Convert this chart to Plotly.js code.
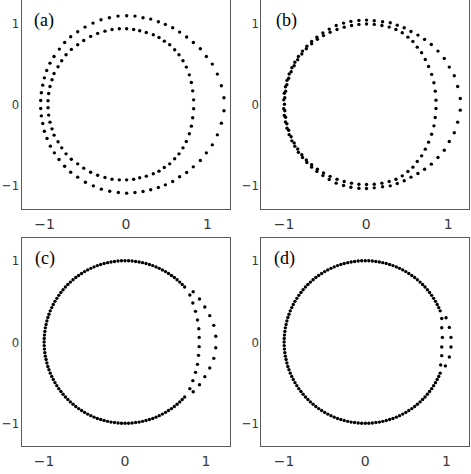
<!DOCTYPE html>
<html>
<head>
<meta charset="utf-8">
<script src="https://cdn.plot.ly/plotly-3.0.1.min.js"></script>
<style>html,body{margin:0;padding:0;background:#fff}#chart{width:471px;height:474px}</style>
</head>
<body>
<div id="chart"></div>
<script>
// ---------- Panel (a) ----------
const aOuterX = [1.202,1.170,1.121,1.059,0.986,0.912,0.826,0.744,0.658,0.573,0.483,0.397,0.303,0.209,0.110,0.008,-0.098,-0.204,-0.307,-0.405,-0.503,-0.593,-0.679,-0.753,-0.818,-0.883,-0.933,-0.973,-1.002,-1.022,-1.039,-1.047,
  -1.047,-1.039,-1.022,-1.002,-0.969,-0.928,-0.879,-0.822,-0.753,-0.679,-0.593,-0.499,-0.401,-0.303,-0.200,-0.094,0.008,0.110,0.209,0.303,0.397,0.483,0.573,0.658,0.744,0.826,0.912,0.986,1.059,1.121,1.170,1.202];
const aOuterY = [0.080,0.228,0.372,0.495,0.589,0.684,0.762,0.828,0.889,0.942,0.984,1.016,1.049,1.066,1.086,1.090,1.086,1.066,1.041,1.000,0.951,0.893,0.832,0.762,0.680,0.589,0.507,0.417,0.326,0.236,0.142,0.047,
  -0.051,-0.142,-0.236,-0.331,-0.421,-0.515,-0.598,-0.680,-0.762,-0.836,-0.897,-0.959,-1.004,-1.045,-1.070,-1.086,-1.094,-1.086,-1.074,-1.053,-1.025,-0.992,-0.951,-0.893,-0.840,-0.770,-0.692,-0.598,-0.499,-0.376,-0.232,-0.080];
const aInnerX = [0.830,0.818,0.802,0.777,0.740,0.699,0.650,0.597,0.536,0.470,0.405,0.335,0.249,0.168,0.094,0.008,-0.082,-0.172,-0.258,-0.348,-0.434,-0.519,-0.593,-0.671,-0.736,-0.789,-0.834,-0.883,-0.908,-0.933,-0.949,-0.957,
  -0.957,-0.949,-0.933,-0.908,-0.883,-0.834,-0.789,-0.736,-0.671,-0.593,-0.519,-0.434,-0.348,-0.258,-0.172,-0.082,0.008,0.094,0.168,0.249,0.335,0.405,0.470,0.536,0.597,0.650,0.699,0.740,0.777,0.802,0.818,0.830];
const aInnerY = [0.055,0.166,0.269,0.363,0.458,0.536,0.610,0.671,0.733,0.778,0.823,0.856,0.885,0.905,0.922,0.930,0.930,0.922,0.901,0.873,0.836,0.786,0.733,0.676,0.610,0.536,0.462,0.380,0.302,0.220,0.133,0.043,
  -0.043,-0.133,-0.220,-0.302,-0.380,-0.462,-0.536,-0.610,-0.676,-0.733,-0.786,-0.836,-0.873,-0.901,-0.922,-0.930,-0.930,-0.922,-0.905,-0.885,-0.856,-0.823,-0.778,-0.733,-0.671,-0.610,-0.536,-0.458,-0.363,-0.269,-0.166,-0.055];

// ---------- Panel (b) ----------
const bOuterX = [1.146,1.114,1.073,1.012,0.951,0.874,0.793,0.711,0.630,0.545,0.463,0.378,0.293,0.199,0.098,0.004,-0.089,-0.187,-0.276,-0.366,-0.451,-0.528,-0.601,-0.665,-0.723,-0.776,-0.826,-0.870,-0.906,-0.939,-0.965,-0.984,-0.998,-1.005,
  -1.005,-0.998,-0.984,-0.965,-0.939,-0.906,-0.870,-0.826,-0.776,-0.723,-0.665,-0.601,-0.528,-0.451,-0.366,-0.276,-0.187,-0.089,0.004,0.098,0.199,0.293,0.378,0.463,0.545,0.630,0.711,0.793,0.874,0.951,1.012,1.073,1.114,1.146];
const bOuterY = [0.072,0.220,0.351,0.458,0.565,0.655,0.737,0.799,0.852,0.897,0.942,0.975,1.004,1.016,1.029,1.037,1.033,1.021,1.000,0.971,0.926,0.878,0.826,0.774,0.716,0.655,0.590,0.517,0.450,0.373,0.295,0.217,0.137,0.055,
  -0.055,-0.137,-0.217,-0.295,-0.373,-0.450,-0.517,-0.590,-0.655,-0.716,-0.774,-0.826,-0.878,-0.926,-0.971,-1.000,-1.021,-1.033,-1.037,-1.029,-1.016,-1.004,-0.975,-0.942,-0.897,-0.852,-0.799,-0.737,-0.655,-0.565,-0.458,-0.351,-0.220,-0.072];
const bInnerX = [0.850,0.841,0.825,0.797,0.760,0.720,0.675,0.622,0.569,0.508,0.439,0.362,0.280,0.191,0.098,0.004,-0.089,-0.179,-0.268,-0.356,-0.440,-0.520,-0.595,-0.665,-0.730,-0.785,-0.835,-0.878,-0.915,-0.945,-0.967,-0.982,-0.992,-0.996,
  -0.992,-0.982,-0.967,-0.945,-0.915,-0.878,-0.835,-0.785,-0.730,-0.665,-0.595,-0.520,-0.440,-0.356,-0.268,-0.179,-0.089,0.004,0.098,0.191,0.280,0.362,0.439,0.508,0.569,0.622,0.675,0.720,0.760,0.797,0.825,0.841,0.850];
const bInnerY = [0.051,0.162,0.265,0.368,0.466,0.552,0.635,0.704,0.774,0.827,0.881,0.922,0.951,0.971,0.984,0.988,0.984,0.971,0.950,0.922,0.887,0.846,0.800,0.745,0.685,0.620,0.550,0.475,0.400,0.320,0.240,0.160,0.080,0.000,
  -0.080,-0.160,-0.240,-0.320,-0.400,-0.475,-0.550,-0.620,-0.685,-0.745,-0.800,-0.846,-0.887,-0.922,-0.950,-0.971,-0.984,-0.988,-0.984,-0.971,-0.951,-0.922,-0.881,-0.827,-0.774,-0.704,-0.635,-0.552,-0.466,-0.368,-0.265,-0.162,-0.051];

// ---------- Panel (c) ----------
const cArcX = [0.737,0.707,0.676,0.643,0.609,0.574,0.537,0.500,0.462,0.423,0.383,0.342,0.301,0.259,0.216,0.174,0.131,0.087,0.044,0.000,
  -0.044,-0.087,-0.131,-0.174,-0.216,-0.259,-0.301,-0.342,-0.383,-0.423,-0.462,-0.500,-0.537,-0.574,-0.609,-0.643,-0.676,-0.707,-0.737,-0.766,-0.793,-0.819,-0.843,-0.866,-0.887,-0.906,-0.924,-0.940,-0.954,-0.966,-0.976,-0.985,-0.991,-0.996,-0.999,-1.000,
  -0.999,-0.996,-0.991,-0.985,-0.976,-0.966,-0.954,-0.940,-0.924,-0.906,-0.887,-0.866,-0.843,-0.819,-0.793,-0.766,-0.737,-0.707,-0.676,-0.643,-0.609,-0.574,-0.537,-0.500,-0.462,-0.423,-0.383,-0.342,-0.301,-0.259,-0.216,-0.174,-0.131,-0.087,-0.044,0.000,
  0.044,0.087,0.131,0.174,0.216,0.259,0.301,0.342,0.383,0.423,0.462,0.500,0.537,0.574,0.609,0.643,0.676,0.707,0.737];
const cArcY = [0.676,0.707,0.737,0.766,0.793,0.819,0.843,0.866,0.887,0.906,0.924,0.940,0.954,0.966,0.976,0.985,0.991,0.996,0.999,1.000,
  0.999,0.996,0.991,0.985,0.976,0.966,0.954,0.940,0.924,0.906,0.887,0.866,0.843,0.819,0.793,0.766,0.737,0.707,0.676,0.643,0.609,0.574,0.537,0.500,0.462,0.423,0.383,0.342,0.301,0.259,0.216,0.174,0.131,0.087,0.044,0.000,
  -0.044,-0.087,-0.131,-0.174,-0.216,-0.259,-0.301,-0.342,-0.383,-0.423,-0.462,-0.500,-0.537,-0.574,-0.609,-0.643,-0.676,-0.707,-0.737,-0.766,-0.793,-0.819,-0.843,-0.866,-0.887,-0.906,-0.924,-0.940,-0.954,-0.966,-0.976,-0.985,-0.991,-0.996,-0.999,-1.000,
  -0.999,-0.996,-0.991,-0.985,-0.976,-0.966,-0.954,-0.940,-0.924,-0.906,-0.887,-0.866,-0.843,-0.819,-0.793,-0.766,-0.737,-0.707,-0.676];
const cOuterX = [0.842,0.920,0.986,1.047,1.097,1.121,1.121,1.097,1.047,0.986,0.920,0.842];
const cOuterY = [0.619,0.529,0.430,0.324,0.205,0.070,-0.070,-0.201,-0.320,-0.426,-0.525,-0.611];
const cInnerX = [0.801,0.838,0.871,0.895,0.912,0.916,0.916,0.908,0.895,0.871,0.838,0.801];
const cInnerY = [0.578,0.480,0.377,0.270,0.164,0.057,-0.057,-0.164,-0.275,-0.373,-0.475,-0.574];

// ---------- Panel (d) ----------
const dArcX = [0.924,0.906,0.887,0.866,0.843,0.819,0.793,0.766,
  0.737,0.707,0.676,0.643,0.609,0.574,0.537,0.500,0.462,0.423,0.383,0.342,0.301,0.259,0.216,0.174,0.131,0.087,0.044,0.000,
  -0.044,-0.087,-0.131,-0.174,-0.216,-0.259,-0.301,-0.342,-0.383,-0.423,-0.462,-0.500,-0.537,-0.574,-0.609,-0.643,-0.676,-0.707,-0.737,-0.766,-0.793,-0.819,-0.843,-0.866,-0.887,-0.906,-0.924,-0.940,-0.954,-0.966,-0.976,-0.985,-0.991,-0.996,-0.999,-1.000,
  -0.999,-0.996,-0.991,-0.985,-0.976,-0.966,-0.954,-0.940,-0.924,-0.906,-0.887,-0.866,-0.843,-0.819,-0.793,-0.766,-0.737,-0.707,-0.676,-0.643,-0.609,-0.574,-0.537,-0.500,-0.462,-0.423,-0.383,-0.342,-0.301,-0.259,-0.216,-0.174,-0.131,-0.087,-0.044,0.000,
  0.044,0.087,0.131,0.174,0.216,0.259,0.301,0.342,0.383,0.423,0.462,0.500,0.537,0.574,0.609,0.643,0.676,0.707,0.737,
  0.766,0.793,0.819,0.843,0.866,0.887,0.906,0.924];
const dArcY = [0.383,0.423,0.462,0.500,0.537,0.574,0.609,0.643,
  0.676,0.707,0.737,0.766,0.793,0.819,0.843,0.866,0.887,0.906,0.924,0.940,0.954,0.966,0.976,0.985,0.991,0.996,0.999,1.000,
  0.999,0.996,0.991,0.985,0.976,0.966,0.954,0.940,0.924,0.906,0.887,0.866,0.843,0.819,0.793,0.766,0.737,0.707,0.676,0.643,0.609,0.574,0.537,0.500,0.462,0.423,0.383,0.342,0.301,0.259,0.216,0.174,0.131,0.087,0.044,0.000,
  -0.044,-0.087,-0.131,-0.174,-0.216,-0.259,-0.301,-0.342,-0.383,-0.423,-0.462,-0.500,-0.537,-0.574,-0.609,-0.643,-0.676,-0.707,-0.737,-0.766,-0.793,-0.819,-0.843,-0.866,-0.887,-0.906,-0.924,-0.940,-0.954,-0.966,-0.976,-0.985,-0.991,-0.996,-0.999,-1.000,
  -0.999,-0.996,-0.991,-0.985,-0.976,-0.966,-0.954,-0.940,-0.924,-0.906,-0.887,-0.866,-0.843,-0.819,-0.793,-0.766,-0.737,-0.707,-0.676,
  -0.643,-0.609,-0.574,-0.537,-0.500,-0.462,-0.423,-0.383];
const dOuterX = [0.996,1.037,1.057,1.057,1.037,0.988];
const dOuterY = [0.299,0.180,0.057,-0.061,-0.184,-0.294];
const dInnerX = [0.943,0.943,0.951,0.943,0.943,0.930];
const dInnerY = [0.290,0.176,0.057,-0.061,-0.168,-0.282];

// ---------- ticks & labels ----------
const tickVals = [-1, 0, 1];
const tickText = ['\u22121', '0', '1'];
const panelLabels = ['(a)', '(b)', '(c)', '(d)'];

const mk = {color: '#000', size: 3.4};
function tr(x, y, xa, ya) {
  return {x: x, y: y, xaxis: xa, yaxis: ya, type: 'scatter', mode: 'markers',
          marker: mk, hoverinfo: 'none', showlegend: false, cliponaxis: false};
}
const data = [
  tr(aOuterX, aOuterY, 'x', 'y'), tr(aInnerX, aInnerY, 'x', 'y'),
  tr(bOuterX, bOuterY, 'x2', 'y2'), tr(bInnerX, bInnerY, 'x2', 'y2'),
  tr(cArcX, cArcY, 'x3', 'y3'), tr(cOuterX, cOuterY, 'x3', 'y3'), tr(cInnerX, cInnerY, 'x3', 'y3'),
  tr(dArcX, dArcY, 'x4', 'y4'), tr(dOuterX, dOuterY, 'x4', 'y4'), tr(dInnerX, dInnerY, 'x4', 'y4')
];

function ax(domain, range, anchor, isY) {
  return {domain: domain, range: range, anchor: anchor, showline: true, mirror: true,
          linecolor: '#5a5a5a', linewidth: 1, ticks: '', ticklabelstandoff: isY ? -1 : 2,
          tickvals: tickVals, ticktext: tickText, showgrid: false, zeroline: false,
          tickfont: isY ? {family: 'DejaVu Sans Condensed, Liberation Sans, sans-serif', size: 13, color: '#3a3a3a'}
                        : {family: 'DejaVu Sans', size: 14, color: '#3a3a3a'},
          automargin: false, fixedrange: true};
}
const xL = [0.0461, 0.4883], xR = [0.5552, 0.9964];
const yT = [0.5591, 0.9994], yB = [0.0591, 0.4985];

const layout = {
  width: 471, height: 474,
  margin: {l: 0, r: 0, t: 0, b: 0},
  paper_bgcolor: '#fff', plot_bgcolor: '#fff',
  xaxis: ax(xL, [-1.28, 1.276], 'y', false), yaxis: ax(yT, [-1.289, 1.281], 'x', true),
  xaxis2: ax(xR, [-1.276, 1.256], 'y2', false), yaxis2: ax(yT, [-1.289, 1.281], 'x2', true),
  xaxis3: ax(xL, [-1.277, 1.297], 'y3', false), yaxis3: ax(yB, [-1.279, 1.283], 'x3', true),
  xaxis4: ax(xR, [-1.279, 1.283], 'y4', false), yaxis4: ax(yB, [-1.279, 1.283], 'x4', true),
  annotations: [
    {xref: 'x domain', yref: 'y domain', x: 0.048, y: 0.965},
    {xref: 'x2 domain', yref: 'y2 domain', x: 0.058, y: 0.965},
    {xref: 'x3 domain', yref: 'y3 domain', x: 0.054, y: 0.962},
    {xref: 'x4 domain', yref: 'y4 domain', x: 0.052, y: 0.962}
  ].map((a, i) => Object.assign(a, {text: panelLabels[i], showarrow: false, xanchor: 'left', yanchor: 'top',
        font: {family: 'Liberation Serif', size: 18, color: '#000'}}))
};

Plotly.newPlot('chart', data, layout, {staticPlot: true, displayModeBar: false});
</script>
</body>
</html>
